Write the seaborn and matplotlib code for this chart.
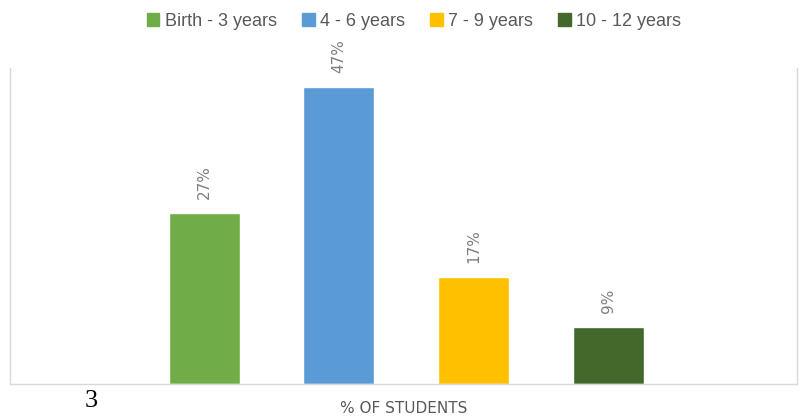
import matplotlib.pyplot as plt
import matplotlib.patches as mpatches
import seaborn as sns

# data
age_groups = ["Birth - 3 years", "4 - 6 years", "7 - 9 years", "10 - 12 years"]
pct_students = [27, 47, 17, 9]
bar_colors = ["#70AD47", "#5B9BD5", "#FFC000", "#43682B"]

sns.set_theme(style="white")
plt.rcParams['font.family'] = ['Liberation Sans Narrow', 'Liberation Sans', 'DejaVu Sans']

fig = plt.figure(figsize=(8.05, 4.17), dpi=100)
ax = fig.add_axes([10 / 805, 33 / 417, 787 / 805, 316 / 417])

sns.barplot(x=age_groups, y=pct_students, hue=age_groups, palette=bar_colors,
            order=age_groups, hue_order=age_groups, width=0.527,
            legend=False, saturation=1, ax=ax)

# rotated value labels above each bar
for cont in ax.containers:
    labels = ax.bar_label(cont, fmt="%d%%", rotation=90, padding=10,
                          color="#7F7F7F", fontsize=11, fontfamily="DejaVu Sans")
    for t in labels:
        t.set_clip_on(False)

ax.set_ylim(0, 50)
ax.set_xlim(-1.44, 4.40)
ax.set_xticks([])
ax.set_yticks([])
ax.set_ylabel("")
ax.set_xlabel("% OF STUDENTS", color="#595959", fontsize=11, labelpad=12,
              fontfamily="DejaVu Sans")

for side in ["left", "right", "bottom"]:
    ax.spines[side].set_visible(True)
    ax.spines[side].set_color("#D9D9D9")
    ax.spines[side].set_linewidth(1)
ax.spines["top"].set_visible(False)

handles = [mpatches.Patch(color=c, label=l) for c, l in zip(bar_colors, age_groups)]
fig.legend(handles=handles, loc="center", bbox_to_anchor=(414 / 805, 1 - 21 / 417),
           ncol=4, frameon=False, fontsize=13, handlelength=0.7, handleheight=0.7,
           handletextpad=0.3, columnspacing=1.4, labelcolor="#595959")

# page number from the source document
fig.text(91 / 805, 1 - 401 / 417, "3", fontsize=19, ha="center", va="center",
         fontfamily="Liberation Serif", color="black")

fig.savefig("out.png", dpi=100)
